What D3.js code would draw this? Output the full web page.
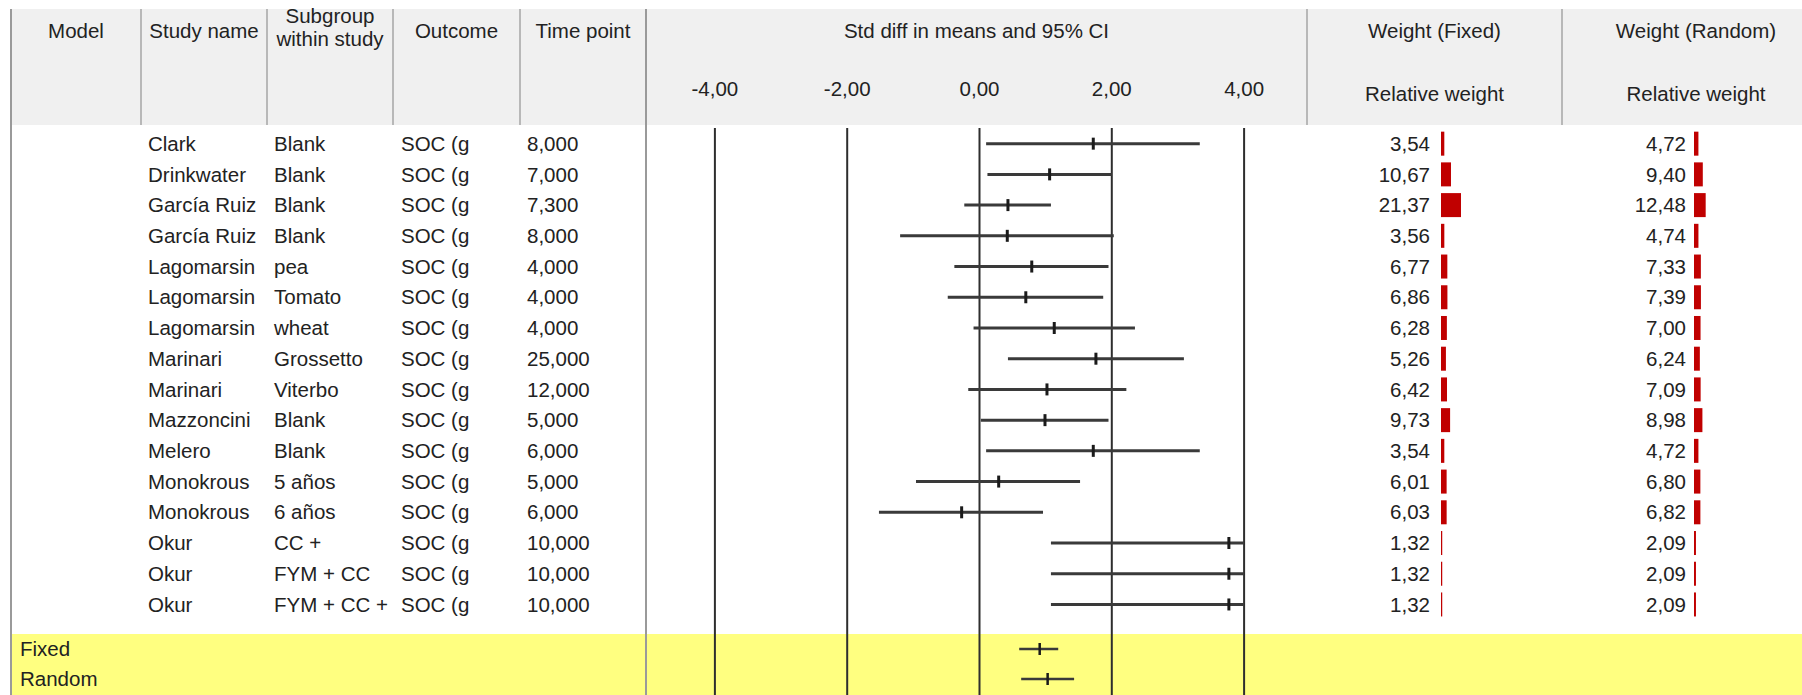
<!DOCTYPE html>
<html>
<head>
<meta charset="utf-8">
<script src="https://cdn.jsdelivr.net/npm/d3@7"></script>
<style>
  body { margin: 0; background: #ffffff; }
  svg { display: block; }
  text { font-family: "Liberation Sans", Arial, sans-serif; fill: #222222; }
</style>
</head>
<body>
<svg id="chart" width="1802" height="695"></svg>
<script>
// ---- Study-level data -------------------------------------------------
const studyNames = ["Clark", "Drinkwater", "García Ruiz", "García Ruiz", "Lagomarsin", "Lagomarsin",
  "Lagomarsin", "Marinari", "Marinari", "Mazzoncini", "Melero", "Monokrous", "Monokrous",
  "Okur", "Okur", "Okur"];
const subgroups = ["Blank", "Blank", "Blank", "Blank", "pea", "Tomato", "wheat", "Grossetto",
  "Viterbo", "Blank", "Blank", "5 años", "6 años", "CC +", "FYM + CC", "FYM + CC +"];
const outcomes = ["SOC (g", "SOC (g", "SOC (g", "SOC (g", "SOC (g", "SOC (g", "SOC (g", "SOC (g",
  "SOC (g", "SOC (g", "SOC (g", "SOC (g", "SOC (g", "SOC (g", "SOC (g", "SOC (g"];
const timePoints = [8, 7, 7.3, 8, 4, 4, 4, 25, 12, 5, 6, 5, 6, 10, 10, 10];

// Standardised difference in means with 95% confidence limits
const effects  = [1.72, 1.06, 0.43, 0.42, 0.79, 0.70, 1.13, 1.76, 1.02, 0.99, 1.72, 0.29, -0.27, 3.77, 3.77, 3.77];
const lowerCI  = [0.10, 0.12, -0.23, -1.20, -0.38, -0.48, -0.09, 0.43, -0.17, 0.02, 0.10, -0.96, -1.52, 1.08, 1.08, 1.08];
const upperCI  = [3.33, 2.00, 1.08, 2.03, 1.95, 1.87, 2.35, 3.09, 2.22, 1.95, 3.33, 1.52, 0.96, 6.46, 6.46, 6.46];

// Relative weights (%)
const weightFixed  = [3.54, 10.67, 21.37, 3.56, 6.77, 6.86, 6.28, 5.26, 6.42, 9.73, 3.54, 6.01, 6.03, 1.32, 1.32, 1.32];
const weightRandom = [4.72, 9.40, 12.48, 4.74, 7.33, 7.39, 7.00, 6.24, 7.09, 8.98, 4.72, 6.80, 6.82, 2.09, 2.09, 2.09];

// Pooled estimates
const summaryModels  = ["Fixed", "Random"];
const summaryEffects = [0.91, 1.03];
const summaryLower   = [0.60, 0.63];
const summaryUpper   = [1.19, 1.43];

// Axis ticks of the effect-size column
const axisTicks = [-4, -2, 0, 2, 4];

// Column headers
const headerTitles = ["Model", "Study name", "Subgroup\nwithin study", "Outcome", "Time point",
  "Std diff in means and 95% CI", "Weight (Fixed)", "Weight (Random)"];
const weightSubtitle = "Relative weight";

// ---- Layout -----------------------------------------------------------
const W = 1802, H = 695;
const FS = 20.5;
const colEdges = [11, 141, 267, 393, 520, 646, 1307, 1562, 1830];
const headerTop = 9, headerBottom = 125;
const rowsTop = 128.3, rowStep = 30.72;
const summaryTop = 634;

const locale = d3.formatLocale({ decimal: ",", thousands: ".", grouping: [3], currency: ["", ""], minus: "-" });
const fmt2 = locale.format(".2f");
const fmt3 = locale.format(".3f");

const svg = d3.select("#chart");

const x = d3.scaleLinear().domain([-4, 4]).range([714.9, 1244.1]).clamp(true);
const rowIdx = d3.range(studyNames.length);
const y = d3.scaleBand().domain(rowIdx).range([rowsTop, rowsTop + rowStep * rowIdx.length]).padding(0);
const ySum = d3.scaleBand().domain(summaryModels).range([summaryTop, summaryTop + 60]);
const barScale = d3.scaleLinear().domain([0, 21.37]).range([0, 20]);

// Background: header panel, white body, yellow summary band
svg.append("rect").attr("x", 0).attr("y", 0).attr("width", W).attr("height", H).attr("fill", "#ffffff");
svg.append("rect").attr("x", colEdges[0]).attr("y", headerTop).attr("width", W - colEdges[0]).attr("height", headerBottom - headerTop)
  .attr("fill", "#f0f0f0");
svg.append("rect").attr("x", colEdges[0]).attr("y", summaryTop).attr("width", W - colEdges[0]).attr("height", H - summaryTop)
  .attr("fill", "#ffff80");

// Header column separators
svg.append("g").selectAll("line").data(colEdges.slice(0, -1)).join("line")
  .attr("x1", d => d).attr("x2", d => d)
  .attr("y1", headerTop).attr("y2", headerBottom)
  .attr("stroke", "#a6a6a6").attr("stroke-width", 1.5);

// Outer frame lines that run through the body
svg.append("g").selectAll("line").data([colEdges[0], colEdges[5]]).join("line")
  .attr("x1", d => d).attr("x2", d => d)
  .attr("y1", headerTop).attr("y2", H)
  .attr("stroke", "#9a9a9a").attr("stroke-width", 2);

// Header titles
const hdr = svg.append("g").attr("font-size", FS);
headerTitles.forEach((t, i) => {
  const cx = (colEdges[i] + colEdges[i + 1]) / 2;
  const lines = t.split("\n");
  const tx = hdr.append("text").attr("x", cx).attr("text-anchor", "middle");
  if (lines.length === 1) {
    tx.attr("y", 31).attr("dy", "0.35em").text(t);
  } else {
    lines.forEach((ln, k) => tx.append("tspan").attr("x", cx).attr("y", 16 + k * 23).attr("dy", "0.35em").text(ln));
  }
});
[6, 7].forEach(i => {
  hdr.append("text").attr("x", (colEdges[i] + colEdges[i + 1]) / 2).attr("y", 94).attr("dy", "0.35em")
    .attr("text-anchor", "middle").text(weightSubtitle);
});

// Effect axis tick labels
hdr.selectAll("text.tick").data(axisTicks).join("text").attr("class", "tick")
  .attr("x", d => x(d)).attr("y", 89).attr("dy", "0.35em").attr("text-anchor", "middle")
  .text(d => fmt2(d));

// Vertical reference lines
svg.append("g").selectAll("line").data(axisTicks).join("line")
  .attr("x1", d => x(d)).attr("x2", d => x(d))
  .attr("y1", 128).attr("y2", H)
  .attr("stroke", "#2e2e2e").attr("stroke-width", 2);

// Table text of the studies
const body = svg.append("g").attr("font-size", FS);
const cy = i => y(i) + y.bandwidth() / 2;
const textCols = [
  { vals: studyNames, x: 148 },
  { vals: subgroups, x: 274 },
  { vals: outcomes, x: 401 },
  { vals: timePoints.map(fmt3), x: 527 }
];
textCols.forEach(c => {
  body.append("g").selectAll("text").data(rowIdx).join("text")
    .attr("x", c.x).attr("y", i => cy(i)).attr("dy", "0.35em").text(i => c.vals[i]);
});

// Confidence intervals and point estimates
const ci = svg.append("g");
ci.selectAll("line.ci").data(rowIdx).join("line").attr("class", "ci")
  .attr("x1", i => x(lowerCI[i])).attr("x2", i => x(upperCI[i]))
  .attr("y1", i => cy(i)).attr("y2", i => cy(i))
  .attr("stroke", "#3a3a3a").attr("stroke-width", 3);
ci.selectAll("line.pt").data(rowIdx).join("line").attr("class", "pt")
  .attr("x1", i => x(effects[i])).attr("x2", i => x(effects[i]))
  .attr("y1", i => cy(i) - 6).attr("y2", i => cy(i) + 6)
  .attr("stroke", "#1a1a1a").attr("stroke-width", 3);

// Relative weight columns: value + proportional bar
const weightCols = [
  { vals: weightFixed, textRight: 1430, barLeft: 1441 },
  { vals: weightRandom, textRight: 1686, barLeft: 1694 }
];
weightCols.forEach(c => {
  const g = svg.append("g");
  g.selectAll("text").data(rowIdx).join("text")
    .attr("font-size", FS).attr("text-anchor", "end")
    .attr("x", c.textRight).attr("y", i => cy(i)).attr("dy", "0.35em")
    .text(i => fmt2(c.vals[i]));
  g.selectAll("rect").data(rowIdx).join("rect")
    .attr("x", c.barLeft).attr("y", i => cy(i) - 12)
    .attr("width", i => barScale(c.vals[i])).attr("height", 24)
    .attr("fill", "#c00000");
});

// Pooled rows
const sum = svg.append("g");
sum.selectAll("text").data(summaryModels).join("text")
  .attr("font-size", FS).attr("x", 20).attr("y", d => ySum(d) + ySum.bandwidth() / 2).attr("dy", "0.35em").text(d => d);
sum.selectAll("line.ci").data(d3.range(summaryModels.length)).join("line").attr("class", "ci")
  .attr("x1", i => x(summaryLower[i])).attr("x2", i => x(summaryUpper[i]))
  .attr("y1", i => ySum(summaryModels[i]) + ySum.bandwidth() / 2).attr("y2", i => ySum(summaryModels[i]) + ySum.bandwidth() / 2)
  .attr("stroke", "#3a3a3a").attr("stroke-width", 2.5);
sum.selectAll("line.pt").data(d3.range(summaryModels.length)).join("line").attr("class", "pt")
  .attr("x1", i => x(summaryEffects[i])).attr("x2", i => x(summaryEffects[i]))
  .attr("y1", i => ySum(summaryModels[i]) + ySum.bandwidth() / 2 - 6).attr("y2", i => ySum(summaryModels[i]) + ySum.bandwidth() / 2 + 6)
  .attr("stroke", "#1a1a1a").attr("stroke-width", 2.5);
</script>
</body>
</html>
